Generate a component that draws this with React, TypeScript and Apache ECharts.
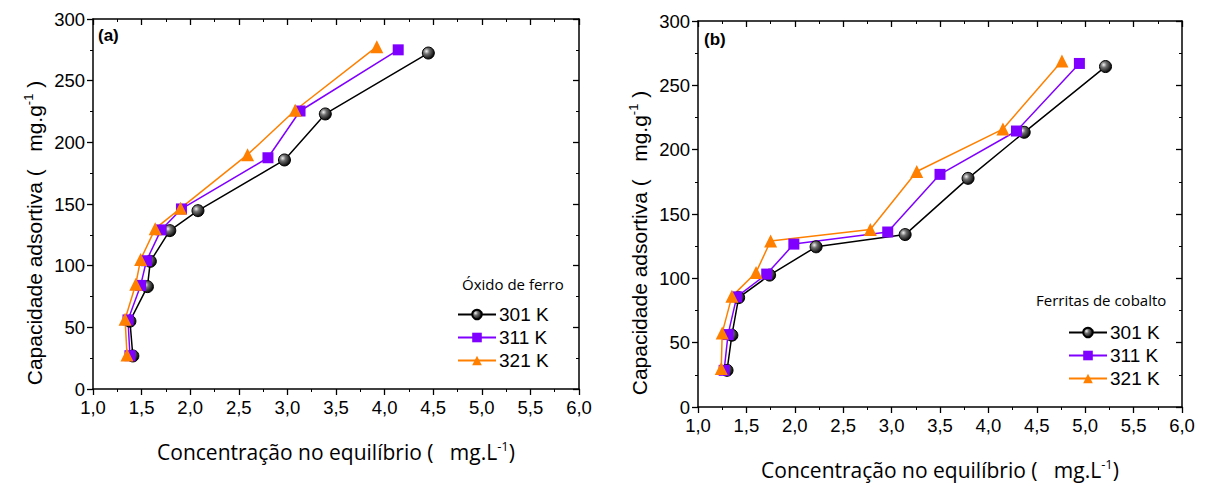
import React, { useEffect, useRef } from "react";
import * as echarts from "echarts";

// Panel (a) - Óxido de ferro
const aX301 = [1.41, 1.38, 1.56, 1.59, 1.79, 2.08, 2.97, 3.39, 4.45];
const aY301 = [26.8, 55, 83, 103.5, 128.4, 144.6, 185.7, 223, 272.4];
const aX311 = [1.38, 1.36, 1.49, 1.55, 1.70, 1.91, 2.80, 3.13, 4.14];
const aY311 = [27, 56, 84, 104, 129, 146, 187.5, 225.4, 275];
const aX321 = [1.35, 1.33, 1.44, 1.49, 1.64, 1.90, 2.59, 3.08, 3.92];
const aY321 = [27.6, 56.5, 85, 105, 130, 146.5, 190, 226, 277.6];

// Panel (b) - Ferritas de cobalto
const bX301 = [1.30, 1.35, 1.42, 1.74, 2.22, 3.14, 3.79, 4.37, 5.21];
const bY301 = [28.5, 55.8, 85, 102.5, 124.5, 134, 177.7, 213.5, 264.6];
const bX311 = [1.27, 1.31, 1.40, 1.71, 1.99, 2.96, 3.50, 4.29, 4.94];
const bY311 = [28.5, 56.3, 85.6, 103.3, 126.6, 136, 180.8, 214.5, 267];
const bX321 = [1.24, 1.25, 1.35, 1.60, 1.75, 2.78, 3.26, 4.15, 4.76];
const bY321 = [29.9, 57.6, 86, 104.6, 129, 138, 183, 216, 269];

const seriesNames = ["301 K", "311 K", "321 K"];
const xTickMin = 1;
const xTickMax = 6;
const yTickMin = 0;
const yTickMax = 300;

const BLACK = "#000000";
const PURPLE = "#8000FF";
const ORANGE = "#FF8000";

const ballFill = new echarts.graphic.RadialGradient(0.35, 0.35, 0.7, [
  { offset: 0, color: "#f2f2f2" },
  { offset: 0.35, color: "#707070" },
  { offset: 1, color: "#000000" },
]);

const zip = (xs: number[], ys: number[]) => xs.map((x, i) => [x, ys[i]]);

export default function App() {
  const ref = useRef<HTMLDivElement>(null);
  useEffect(() => {
    document.body.style.margin = "0";
    const chart = echarts.init(ref.current!, null, { renderer: "svg" });
    const sans = "Liberation Sans";
    const tickFont = { fontFamily: sans, fontSize: 18.5, color: "#000" };
    const nameFont = "Open Sans";
    const xName = "Concentração no equilíbrio (   mg.L{sup|-1})";
    const yName = "Capacidade adsortiva (   mg.g{ysup|-1}{par| )}";
    const richSup = {
      sup: { fontSize: 13, fontFamily: nameFont, color: "#000", verticalAlign: "top", padding: [0, 0, 12, 0] },
      ysup: { fontSize: 13, fontFamily: sans, color: "#000", verticalAlign: "top", padding: [0, 0, 12, 0] },
      par: { fontSize: 21, fontFamily: sans, color: "#000" },
    };
    const grids = [
      { left: 93, top: 19, width: 486, height: 370 },
      { left: 698, top: 21, width: 484, height: 386 },
    ];
    const mkX = (gi: number) => ({
      type: "value",
      gridIndex: gi,
      min: xTickMin,
      max: xTickMax,
      interval: 0.5,
      name: xName,
      nameLocation: "middle",
      nameGap: 50,
      nameTextStyle: { fontFamily: nameFont, fontSize: 21, color: "#000", rich: richSup },
      axisLine: { show: true, onZero: false, lineStyle: { color: "#000", width: 1.5 } },
      axisTick: { show: true, inside: false, length: 6, lineStyle: { color: "#000", width: 1.3 } },
      minorTick: { show: true, splitNumber: 2, length: 3, lineStyle: { color: "#000", width: 1 } },
      axisLabel: { ...tickFont, margin: 9, formatter: (v: number) => v.toFixed(1).replace(".", ",") },
      splitLine: { show: false },
    });
    const mkXTop = (gi: number) => ({
      type: "value",
      gridIndex: gi,
      position: "top",
      min: xTickMin,
      max: xTickMax,
      interval: 0.5,
      axisLine: { show: true, onZero: false, lineStyle: { color: "#000", width: 1.5 } },
      axisTick: { show: true, inside: true, length: 6, lineStyle: { color: "#000", width: 1.3 } },
      minorTick: { show: true, splitNumber: 2, length: 3, lineStyle: { color: "#000" } },
      axisLabel: { show: false },
      splitLine: { show: false },
    });
    const mkY = (gi: number) => ({
      type: "value",
      gridIndex: gi,
      min: yTickMin,
      max: yTickMax,
      interval: 50,
      name: yName,
      nameLocation: "middle",
      nameGap: 46,
      nameRotate: 90,
      nameTextStyle: { fontFamily: sans, fontSize: 21, color: "#000", rich: richSup, padding: [0, 58, 0, 0] },
      axisLine: { show: true, onZero: false, lineStyle: { color: "#000", width: 1.5 } },
      axisTick: { show: true, inside: false, length: 6, lineStyle: { color: "#000", width: 1.3 } },
      minorTick: { show: true, splitNumber: 2, length: 3, lineStyle: { color: "#000", width: 1 } },
      axisLabel: { ...tickFont, margin: 8 },
      splitLine: { show: false },
    });
    const mkYRight = (gi: number) => ({
      type: "value",
      gridIndex: gi,
      position: "right",
      min: yTickMin,
      max: yTickMax,
      interval: 50,
      axisLine: { show: true, onZero: false, lineStyle: { color: "#000", width: 1.5 } },
      axisTick: { show: true, inside: true, length: 6, lineStyle: { color: "#000", width: 1.3 } },
      minorTick: { show: true, splitNumber: 2, length: 3, lineStyle: { color: "#000" } },
      axisLabel: { show: false },
      splitLine: { show: false },
    });

    const mkSeries = (name: string, data: number[][], gi: number, color: string, symbol: string, size: number, fill: any) => ({
      type: "line",
      name,
      xAxisIndex: gi,
      yAxisIndex: gi,
      data,
      symbol,
      symbolSize: size,
      showSymbol: true,
      lineStyle: { color, width: 1.5 },
      itemStyle: { color: fill, borderColor: color, borderWidth: symbol === "circle" ? 1 : 0 },
      z: 3,
    });

    const seriesData = [
      [zip(aX301, aY301), zip(aX311, aY311), zip(aX321, aY321)],
      [zip(bX301, bY301), zip(bX311, bY311), zip(bX321, bY321)],
    ];
    const colors = [BLACK, PURPLE, ORANGE];
    const symbols = ["circle", "rect", "triangle"];
    const sizes = [12, 11, 13];
    const fills = [ballFill, PURPLE, ORANGE];

    const series: any[] = [];
    [0, 1].forEach((gi) => {
      seriesNames.forEach((n, k) => {
        series.push(mkSeries(n, seriesData[gi][k], gi, colors[k], symbols[k], sizes[k], fills[k]));
      });
    });

    const legendCommon = {
      orient: "vertical",
      itemWidth: 38,
      itemHeight: 12,
      itemGap: 4,
      textStyle: { fontFamily: sans, fontSize: 19, color: "#000", padding: [0, 0, 0, -2] },
      data: seriesNames,
      selectedMode: false,
    };

    chart.setOption({
      animation: false,
      backgroundColor: "#fff",
      grid: grids,
      xAxis: [mkX(0), mkX(1), mkXTop(0), mkXTop(1)],
      yAxis: [mkY(0), mkY(1), mkYRight(0), mkYRight(1)],
      legend: [
        { ...legendCommon, left: 452, top: 300 },
        { ...legendCommon, left: 1063, top: 318 },
      ],
      graphic: [
        { type: "text", left: 98, top: 27, style: { text: "(a)", font: "bold 17px 'Liberation Sans', Arial", fill: "#000" } },
        { type: "text", left: 704, top: 31, style: { text: "(b)", font: "bold 17px 'Liberation Sans', Arial", fill: "#000" } },
        { type: "text", left: 462, top: 276, style: { text: "Óxido de ferro", font: "15px 'Open Sans'", fill: "#000" } },
        { type: "text", left: 1036, top: 292, style: { text: "Ferritas de cobalto", font: "15px 'Open Sans'", fill: "#000" } },
      ],
      series,
    });
    return () => chart.dispose();
  }, []);
  return <div ref={ref} style={{ width: 1206, height: 487 }} />;
}
